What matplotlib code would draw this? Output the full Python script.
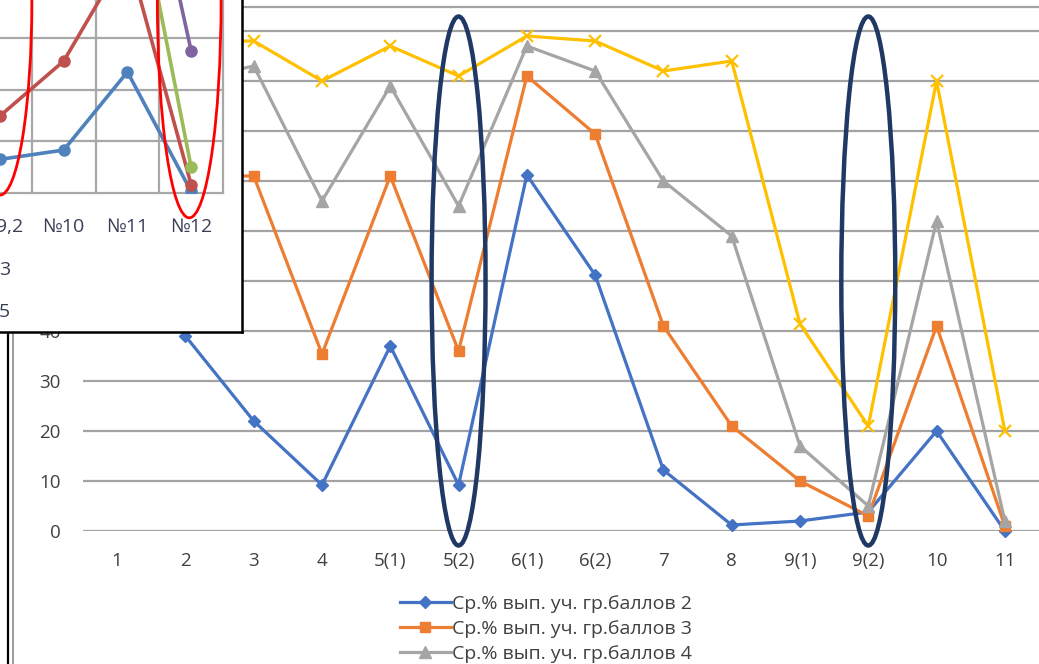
import matplotlib
matplotlib.use("Agg")
import matplotlib.pyplot as plt
from matplotlib.patches import Ellipse
from matplotlib.lines import Line2D
import numpy as np

plt.rcParams['font.family'] = ['Open Sans', 'DejaVu Sans']

# ---------------- main chart data ----------------
categories = ['1', '2', '3', '4', '5(1)', '5(2)', '6(1)', '6(2)', '7', '8', '9(1)', '9(2)', '10', '11']
s2 = [None, 39, 22, 9.2, 37, 9.2, 71.2, 51.2, 12.2, 1.2, 2, 3.8, 20, 0]
s3 = [None, 71, 71, 35.4, 71, 36, 91, 79.4, 41, 21, 10, 3, 41, 1]
s4 = [None, 90, 93, 66, 89, 65, 97, 92, 70, 59, 17, 5, 62, 2]
s5 = [None, 98, 98, 90, 97, 91, 99, 98, 92, 94, 41.4, 21, 90, 20]
labels = ['Ср.% вып. уч. гр.баллов 2', 'Ср.% вып. уч. гр.баллов 3',
          'Ср.% вып. уч. гр.баллов 4', 'Ср.% вып. уч. гр.баллов 5']
yticks = [0, 10, 20, 30, 40, 50, 60, 70, 80, 90, 100]
circled = ['5(2)', '9(2)']

# ---------------- inset chart data ----------------
inset_cats = ['№9,2', '№10', '№11', '№12']
in_blue = [6.5, 8.3, 23.4, 0.3]
in_red = [14.9, 25.5, 46.5, 1.6]
in_green = [None, None, 67.7, 5.0]
in_purple = [None, None, 83.4, 27.5]
inset_legend_tail = ['3', '5']

W, H = 1039, 664
fig = plt.figure(figsize=(W / 100, H / 100), dpi=100)
fig.patch.set_facecolor('white')

def fx(px):
    return px / W

def fy(py):
    return 1 - py / H

# main axes: plot area from x=83..1039 px, y=0..531 px
ax = fig.add_axes([fx(83), fy(531), fx(1039 - 83), 531 / H])
x = np.arange(len(categories))

def arr(v):
    return np.array([np.nan if a is None else a for a in v], dtype=float)

grid_c = '#a3a3a3'
for yv in yticks:
    ax.axhline(yv, color=grid_c, lw=1.6, zorder=1)
ax.axhline(104.8, color=grid_c, lw=1.6, zorder=1)

styles = [
    dict(color='#4472C4', marker='D', ms=6),
    dict(color='#ED7D31', marker='s', ms=7),
    dict(color='#A5A5A5', marker='^', ms=8),
    dict(color='#FFC000', marker='x', ms=9, mew=1.6),
]
handles = []
for vals, st, lab in zip([s2, s3, s4, s5], styles, labels):
    h, = ax.plot(x, arr(vals), lw=2.3, label=lab, zorder=3, clip_on=False, **st)
    handles.append(h)

for c in circled:
    i = categories.index(c)
    e = Ellipse((i, 50), width=0.79, height=105.8, fill=False,
                edgecolor='#1F3864', lw=3.2, zorder=5, clip_on=False)
    ax.add_patch(e)

ax.set_xlim(-0.5, len(categories) - 0.5)
ax.set_ylim(0, 106.2)
ax.set_xticks(x)
ax.set_xticklabels(categories)
ax.set_yticks(yticks)
for s in ax.spines.values():
    s.set_visible(False)
ax.tick_params(axis='both', length=0, labelsize=13.5, colors='#404040')
ax.tick_params(axis='x', pad=15)
ax.tick_params(axis='y', pad=16)
ax.set_facecolor('none')

leg = fig.legend(handles=handles, loc='upper left',
                 bbox_to_anchor=(fx(400), fy(595)), frameon=False,
                 fontsize=14, handlelength=2.6, handletextpad=0.1,
                 labelspacing=0.36, borderpad=0, borderaxespad=0)
for t in leg.get_texts():
    t.set_color('#404040')

# left frame lines of the main chart area
fig.add_artist(Line2D([fx(7.5), fx(7.5)], [fy(332), 0], color='black', lw=1.6))
fig.add_artist(Line2D([fx(12.5), fx(12.5)], [fy(332), 0], color='#9a9a9a', lw=1.4))

# ---------------- inset (pasted screenshot of another chart) ----------------
box = fig.add_axes([0, fy(332), fx(242), 332 / H])
box.set_facecolor('white')
box.set_xticks([])
box.set_yticks([])
box.set_xlim(0, 242)
box.set_ylim(332, 0)
for sp in ['left', 'top']:
    box.spines[sp].set_visible(False)
for sp in ['right', 'bottom']:
    box.spines[sp].set_color('black')
    box.spines[sp].set_linewidth(1.8)
box.set_zorder(10)

for t, py in zip(inset_legend_tail, [270, 312]):
    box.text(-1, py, t, ha='left', va='center', fontsize=14, color='#3a3f55')

iax = fig.add_axes([0, fy(193), fx(223), 193 / H])
iax.set_zorder(11)
iax.set_facecolor('none')
ix = np.arange(len(inset_cats))
iax.set_xlim(0.143, 3.5)
iax.set_ylim(0, 37.3)
for yv in [0, 10, 20, 30]:
    iax.axhline(yv, color='#a8a8a8', lw=1.6, zorder=1, clip_on=False)
for xv in [0.5, 1.5, 2.5, 3.5]:
    iax.axvline(xv, color='#a8a8a8', lw=1.6, zorder=1, clip_on=False)
for vals, col in zip([in_blue, in_red, in_green, in_purple],
                     ['#4F81BD', '#C0504D', '#9BBB59', '#8064A2']):
    iax.plot(ix, arr(vals), color=col, lw=2.6, marker='o', ms=8, zorder=3)
iax.set_xticks(ix)
iax.set_xticklabels(inset_cats)
iax.set_yticks([])
iax.tick_params(axis='x', length=0, pad=18, labelsize=14, colors='#3a3f55')
for s in iax.spines.values():
    s.set_visible(False)
iax.add_patch(Ellipse((0, 37.3), width=1.0, height=75.4, fill=False,
                      edgecolor='#FF0000', lw=2.0, zorder=4, clip_on=False))
iax.add_patch(Ellipse((2.97, 37.3), width=1.0, height=84.2, fill=False,
                      edgecolor='#FF0000', lw=2.0, zorder=4, clip_on=False))

fig.savefig('out.png', dpi=100, facecolor='white')
